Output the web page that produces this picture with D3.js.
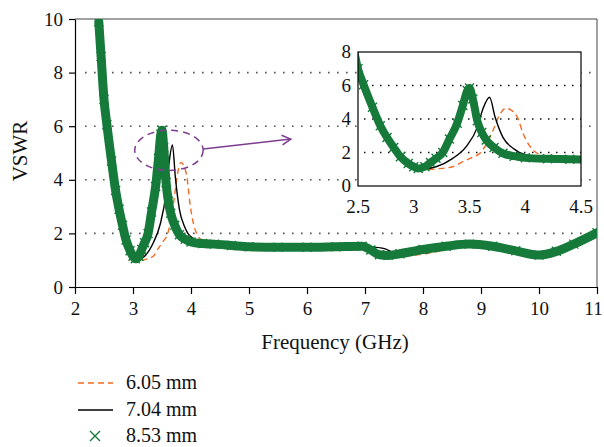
<!DOCTYPE html>
<html>
<head>
<meta charset="utf-8">
<script src="https://cdn.jsdelivr.net/npm/d3@7"></script>
<style>
  body { margin: 0; background: #fff; }
  svg, svg text { font-family: "Liberation Serif", "DejaVu Serif", serif; }
</style>
</head>
<body>
<svg id="chart" width="604" height="447"></svg>
<script>
// Frequency (GHz) / VSWR
const freq605 = [2.42, 2.45, 2.5, 2.55, 2.63, 2.7, 2.76, 2.82, 2.88, 2.95, 3.02, 3.12, 3.2, 3.35, 3.44, 3.52, 3.6, 3.66, 3.71, 3.77, 3.83, 3.88, 3.93, 3.98, 4.07, 4.19, 4.4, 4.5, 5.0, 6.0, 6.9, 7.1, 7.3, 7.6, 8.2, 8.8, 9.3, 10.0, 10.4, 11.0];
const vswr605 = [10.0, 8.9, 7.2, 6.2, 4.9, 3.8, 3.1, 2.4, 1.85, 1.45, 1.15, 0.98, 1.02, 1.15, 1.45, 1.7, 2.0, 2.6, 3.3, 4.25, 4.65, 4.5, 4.1, 3.15, 2.15, 1.75, 1.6, 1.55, 1.5, 1.48, 1.53, 1.4, 1.2, 1.15, 1.3, 1.58, 1.5, 1.22, 1.42, 2.02];

const freq704 = [2.42, 2.45, 2.5, 2.55, 2.63, 2.7, 2.76, 2.82, 2.88, 2.95, 3.0, 3.08, 3.2, 3.35, 3.47, 3.57, 3.62, 3.68, 3.73, 3.8, 3.89, 4.01, 4.25, 4.5, 5.0, 6.0, 6.9, 7.1, 7.35, 7.5, 7.7, 8.0, 8.8, 9.3, 10.0, 10.4, 11.0];
const vswr704 = [10.0, 8.8, 7.1, 6.1, 4.8, 3.7, 3.0, 2.35, 1.8, 1.4, 1.2, 1.02, 1.15, 1.65, 2.35, 3.5, 4.6, 5.3, 4.1, 2.9, 2.25, 1.85, 1.65, 1.55, 1.5, 1.48, 1.54, 1.5, 1.42, 1.28, 1.26, 1.38, 1.6, 1.5, 1.22, 1.42, 2.02];

const freq853 = [2.41, 2.45, 2.5, 2.55, 2.63, 2.7, 2.76, 2.82, 2.88, 2.95, 3.0, 3.04, 3.1, 3.15, 3.2, 3.26, 3.32, 3.39, 3.44, 3.48, 3.5, 3.53, 3.57, 3.61, 3.65, 3.72, 3.8, 3.9, 4.0, 4.2, 4.4, 4.7, 5.0, 5.5, 6.0, 6.5, 6.95, 7.1, 7.25, 7.4, 7.6, 8.0, 8.4, 8.8, 9.2, 9.6, 10.0, 10.3, 10.6, 11.0];
const vswr853 = [9.9, 8.6, 7.0, 6.05, 4.7, 3.6, 2.9, 2.3, 1.75, 1.35, 1.15, 1.05, 1.15, 1.4, 1.65, 2.0, 2.8, 3.75, 4.8, 5.7, 5.85, 5.2, 3.9, 3.2, 2.75, 2.3, 1.95, 1.78, 1.68, 1.62, 1.6, 1.55, 1.5, 1.48, 1.48, 1.5, 1.52, 1.38, 1.2, 1.18, 1.24, 1.4, 1.52, 1.6, 1.52, 1.35, 1.19, 1.33, 1.6, 2.02];

const seriesNames = ["6.05 mm", "7.04 mm", "8.53 mm"];
const xTicks = [2, 3, 4, 5, 6, 7, 8, 9, 10, 11];
const yTicks = [0, 2, 4, 6, 8, 10];
const insetXTicks = [2.5, 3, 3.5, 4, 4.5];
const insetYTicks = [0, 2, 4, 6, 8];

const orange = "#f26b22", green = "#167a3a", purple = "#7d3c8f";
const serif = "'Liberation Serif', 'DejaVu Serif', serif";

const toPts = (f, v) => f.map((d, i) => ({ f: d, v: v[i] }));
const s605 = toPts(freq605, vswr605);
const s704 = toPts(freq704, vswr704);
const s853 = toPts(freq853, vswr853);

const svg = d3.select("#chart");

// main plot
const x = d3.scaleLinear().domain([2, 11]).range([75, 597]);
const y = d3.scaleLinear().domain([0, 10]).range([287, 19]);

svg.append("clipPath").attr("id", "clipMain")
  .append("rect").attr("x", 75).attr("y", 19).attr("width", 522).attr("height", 268);

// dotted grid
svg.append("g").selectAll("line")
  .data([2, 4, 6, 8]).enter().append("line")
  .attr("x1", x(2) + 10).attr("x2", x(11))
  .attr("y1", (d) => y(d)).attr("y2", (d) => y(d))
  .attr("stroke", "#555").attr("stroke-width", 1.6)
  .attr("stroke-dasharray", "1.6,7.4");

// frame top/right
svg.append("path")
  .attr("d", `M${x(2)},${y(10)}H${x(11)}V${y(0)}`)
  .attr("fill", "none").attr("stroke", "#444").attr("stroke-width", 1);

// orange dashed and black lines under, green x-marker band on top
function drawSeries(g, xs, ys, lw) {
  const line = d3.line().x((d) => xs(d.f)).y((d) => ys(d.v)).curve(d3.curveMonotoneX);
  g.append("path").datum(s605).attr("d", line)
    .attr("fill", "none").attr("stroke", orange).attr("stroke-width", 1.4)
    .attr("stroke-dasharray", "6,4");
  g.append("path").datum(s704).attr("d", line)
    .attr("fill", "none").attr("stroke", "#000").attr("stroke-width", 1.4);
  g.append("path").datum(s853).attr("d", line)
    .attr("fill", "none").attr("stroke", green).attr("stroke-width", lw)
    .attr("stroke-linejoin", "round").attr("stroke-linecap", "round");
  g.selectAll(".mk").data(s853).enter().append("path")
    .attr("class", "mk")
    .attr("d", (d) => {
      const cx = xs(d.f), cy = ys(d.v), r = 4.5;
      return `M${cx - r},${cy - r}L${cx + r},${cy + r}M${cx - r},${cy + r}L${cx + r},${cy - r}`;
    })
    .attr("stroke", green).attr("stroke-width", 1.4);
}

const gMain = svg.append("g").attr("clip-path", "url(#clipMain)");
drawSeries(gMain, x, y, 9);

// axes
const xAxis = svg.append("g").attr("transform", `translate(0,${y(0)})`)
  .call(d3.axisBottom(x).tickValues(xTicks).tickSize(7).tickPadding(8).tickSizeOuter(0));
const yAxis = svg.append("g").attr("transform", `translate(${x(2)},0)`)
  .call(d3.axisLeft(y).tickValues(yTicks).tickSize(6).tickPadding(6).tickSizeOuter(0));
[xAxis, yAxis].forEach((a) => {
  a.attr("font-family", null).attr("font-size", null);
  a.selectAll("text").style("font-family", serif).style("font-size", "19px").attr("fill", "#111");
  a.selectAll("line, path").attr("stroke", "#000").attr("stroke-width", 1.2);
});
// last label sits at the picture edge
xAxis.selectAll(".tick text").filter((d) => d === 11).attr("dx", "-4");

svg.append("text")
  .attr("x", 335).attr("y", 349)
  .attr("text-anchor", "middle").attr("font-size", 21).attr("fill", "#111")
  .text("Frequency (GHz)");
svg.append("text")
  .attr("transform", `translate(27,151) rotate(-90)`)
  .attr("text-anchor", "middle").attr("font-size", 21).attr("fill", "#111")
  .text("VSWR");

// zoom ellipse and arrow
const ec = { f: 3.62, v: 5.1 };
svg.append("ellipse")
  .attr("cx", x(ec.f)).attr("cy", y(ec.v))
  .attr("rx", x(ec.f + 0.59) - x(ec.f)).attr("ry", y(ec.v - 0.75) - y(ec.v))
  .attr("fill", "none").attr("stroke", purple).attr("stroke-width", 1.5)
  .attr("stroke-dasharray", "7,5");
const a0 = { f: 4.21, v: 5.15 }, a1 = { f: 5.72, v: 5.52 };
svg.append("line")
  .attr("x1", x(a0.f)).attr("y1", y(a0.v)).attr("x2", x(a1.f)).attr("y2", y(a1.v))
  .attr("stroke", purple).attr("stroke-width", 1.5);
{
  const ex = x(a1.f), ey = y(a1.v);
  const ang = Math.atan2(ey - y(a0.v), ex - x(a0.f));
  const L = 10, w = 0.5;
  svg.append("path")
    .attr("d", `M${ex - L * Math.cos(ang - w)},${ey - L * Math.sin(ang - w)}L${ex},${ey}L${ex - L * Math.cos(ang + w)},${ey - L * Math.sin(ang + w)}`)
    .attr("fill", "none").attr("stroke", purple).attr("stroke-width", 1.5);
}

// inset
const xi = d3.scaleLinear().domain([2.5, 4.5]).range([358, 581]);
const yi = d3.scaleLinear().domain([0, 8]).range([186, 52]);
svg.append("rect").attr("x", 358).attr("y", 52).attr("width", 223).attr("height", 134).attr("fill", "#fff");
svg.append("clipPath").attr("id", "clipInset")
  .append("rect").attr("x", 358).attr("y", 52).attr("width", 223).attr("height", 134);
svg.append("g").selectAll("line")
  .data([2, 4, 6]).enter().append("line")
  .attr("x1", xi(2.5) + 6).attr("x2", xi(4.5))
  .attr("y1", (d) => yi(d)).attr("y2", (d) => yi(d))
  .attr("stroke", "#111").attr("stroke-width", 1.5)
  .attr("stroke-dasharray", "1.5,6.5");
const gIn = svg.append("g").attr("clip-path", "url(#clipInset)");
drawSeries(gIn, xi, yi, 8);
svg.append("rect").attr("x", 358).attr("y", 52).attr("width", 223).attr("height", 134)
  .attr("fill", "none").attr("stroke", "#000").attr("stroke-width", 1.2);

svg.append("g").selectAll("text").data(insetXTicks).enter().append("text")
  .attr("x", (d) => xi(d)).attr("y", 213)
  .attr("text-anchor", "middle").attr("font-size", 19).attr("fill", "#111")
  .text((d) => d);
svg.append("g").selectAll("text").data(insetYTicks).enter().append("text")
  .attr("x", 351).attr("y", (d) => yi(d) + 6)
  .attr("text-anchor", "end").attr("font-size", 19).attr("fill", "#111")
  .text((d) => d);

// legend
const legY = [383, 410, 436];
const leg = svg.append("g");
leg.append("line").attr("x1", 78).attr("x2", 113).attr("y1", legY[0]).attr("y2", legY[0])
  .attr("stroke", orange).attr("stroke-width", 1.4).attr("stroke-dasharray", "6,4");
leg.append("line").attr("x1", 78).attr("x2", 113).attr("y1", legY[1]).attr("y2", legY[1])
  .attr("stroke", "#000").attr("stroke-width", 1.4);
leg.append("path")
  .attr("d", `M90,${legY[2] - 5}L100,${legY[2] + 5}M90,${legY[2] + 5}L100,${legY[2] - 5}`)
  .attr("stroke", green).attr("stroke-width", 1.4);
leg.selectAll("text").data(seriesNames).enter().append("text")
  .attr("x", 126).attr("y", (d, i) => legY[i] + 6)
  .attr("font-size", 20).attr("fill", "#111")
  .text((d) => d);
</script>
</body>
</html>
